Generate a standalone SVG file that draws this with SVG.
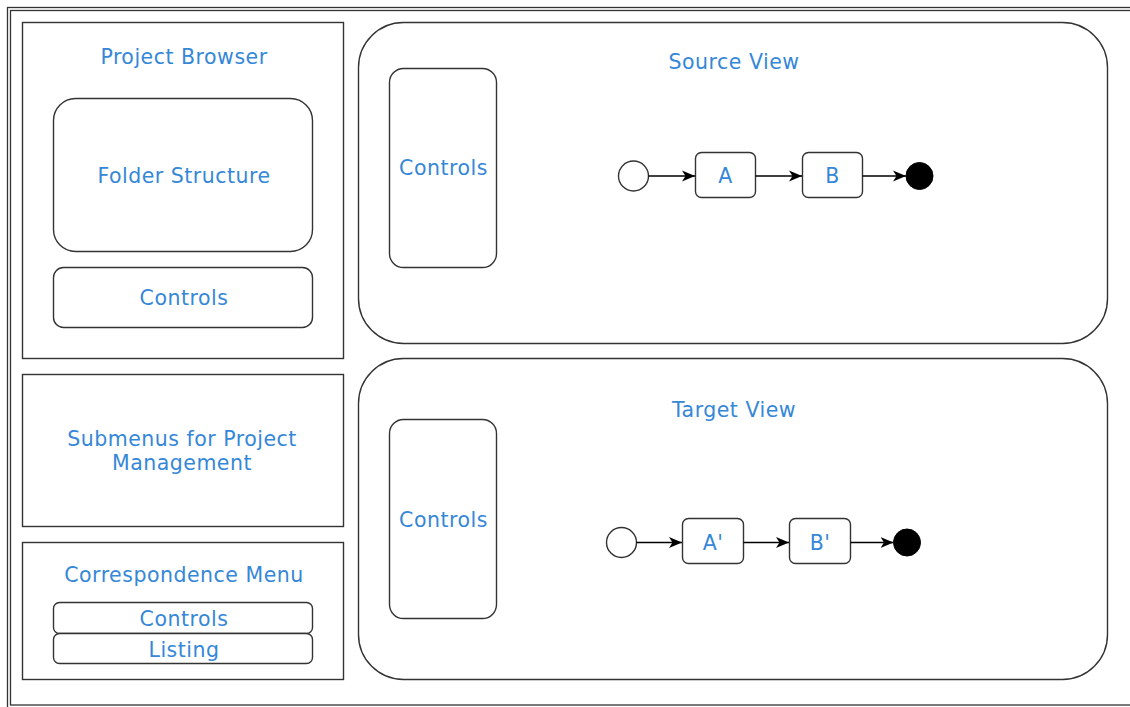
<svg xmlns="http://www.w3.org/2000/svg" width="1130" height="707" viewBox="0 0 1130 707">
<defs>
<style>
.b{fill:#fff;stroke:#333;stroke-width:1.4}
.t{font-family:"DejaVu Sans",sans-serif;font-size:20.5px;letter-spacing:0.5px;fill:#3587d8;text-anchor:middle;dominant-baseline:central}
.e{stroke:#000;stroke-width:1.4;fill:none}
</style>
<marker id="ar" markerWidth="14" markerHeight="12" refX="13" refY="6" orient="auto" markerUnits="userSpaceOnUse">
<path d="M0,0.5 L13,6 L0,11.5 L3.5,6 Z" fill="#000"/>
</marker>
</defs>
<rect width="1130" height="707" fill="#fff"/>
<g id="frame">
<rect x="7.5" y="7.5" width="1130" height="701" fill="none" stroke="#333" stroke-width="1.3"/>
<rect x="10.5" y="10.5" width="1130" height="694.5" fill="none" stroke="#333" stroke-width="1.3"/>
</g>
<g id="project-browser">
<rect class="b" x="22.5" y="22.5" width="321" height="336"/>
<text class="t" x="184" y="57">Project Browser</text>
</g>
<g id="folder-structure">
<rect class="b" x="53.5" y="98.5" width="259" height="153" rx="22"/>
<text class="t" x="184" y="176">Folder Structure</text>
</g>
<g id="pb-controls">
<rect class="b" x="53.5" y="267.5" width="259" height="60" rx="10"/>
<text class="t" x="184" y="298">Controls</text>
</g>
<g id="submenus">
<rect class="b" x="22.5" y="374.5" width="321" height="152"/>
<text class="t" x="182" y="439">Submenus for Project</text>
<text class="t" x="182" y="463">Management</text>
</g>
<g id="correspondence-menu">
<rect class="b" x="22.5" y="542.5" width="321" height="137"/>
<text class="t" x="184" y="575">Correspondence Menu</text>
</g>
<g id="cm-controls">
<rect class="b" x="53.5" y="602.5" width="259" height="31" rx="6"/>
<text class="t" x="184" y="619">Controls</text>
</g>
<g id="cm-listing">
<rect class="b" x="53.5" y="633.5" width="259" height="30" rx="6"/>
<text class="t" x="184" y="650">Listing</text>
</g>
<g id="source-view">
<rect class="b" x="358.5" y="22.5" width="749" height="321" rx="45"/>
<text class="t" x="734" y="62">Source View</text>
</g>
<g id="source-controls">
<rect class="b" x="389.5" y="68.5" width="107" height="199" rx="14"/>
<text class="t" x="443.5" y="168">Controls</text>
</g>
<g id="target-view">
<rect class="b" x="358.5" y="358.5" width="749" height="321" rx="45"/>
<text class="t" x="734" y="410">Target View</text>
</g>
<g id="target-controls">
<rect class="b" x="389.5" y="419.5" width="107" height="199" rx="14"/>
<text class="t" x="443.5" y="520">Controls</text>
</g>
<g id="s-start"><circle class="b" cx="633.5" cy="176" r="15"/></g>
<g id="s-a"><rect class="b" x="695.5" y="152.5" width="60" height="45" rx="6"/><text class="t" x="725.5" y="176">A</text></g>
<g id="s-b"><rect class="b" x="802.5" y="152.5" width="60" height="45" rx="6"/><text class="t" x="832.5" y="176">B</text></g>
<g id="s-end"><circle cx="919.5" cy="176" r="13.5" fill="#000" stroke="#000"/></g>
<g id="t-start"><circle class="b" cx="621.5" cy="542.5" r="15"/></g>
<g id="t-a"><rect class="b" x="682.5" y="518.5" width="61" height="45" rx="6"/><text class="t" x="713" y="543">A'</text></g>
<g id="t-b"><rect class="b" x="789.5" y="518.5" width="61" height="45" rx="6"/><text class="t" x="820" y="543">B'</text></g>
<g id="t-end"><circle cx="907" cy="542.5" r="13.5" fill="#000" stroke="#000"/></g>
<g id="connectors">
<line class="e" x1="648.5" y1="176" x2="695" y2="176" marker-end="url(#ar)"/>
<line class="e" x1="755.5" y1="176" x2="802" y2="176" marker-end="url(#ar)"/>
<line class="e" x1="862.5" y1="176" x2="906" y2="176" marker-end="url(#ar)"/>
<line class="e" x1="636.5" y1="542.5" x2="682" y2="542.5" marker-end="url(#ar)"/>
<line class="e" x1="743.5" y1="542.5" x2="789" y2="542.5" marker-end="url(#ar)"/>
<line class="e" x1="850.5" y1="542.5" x2="893.5" y2="542.5" marker-end="url(#ar)"/>
</g>
</svg>
